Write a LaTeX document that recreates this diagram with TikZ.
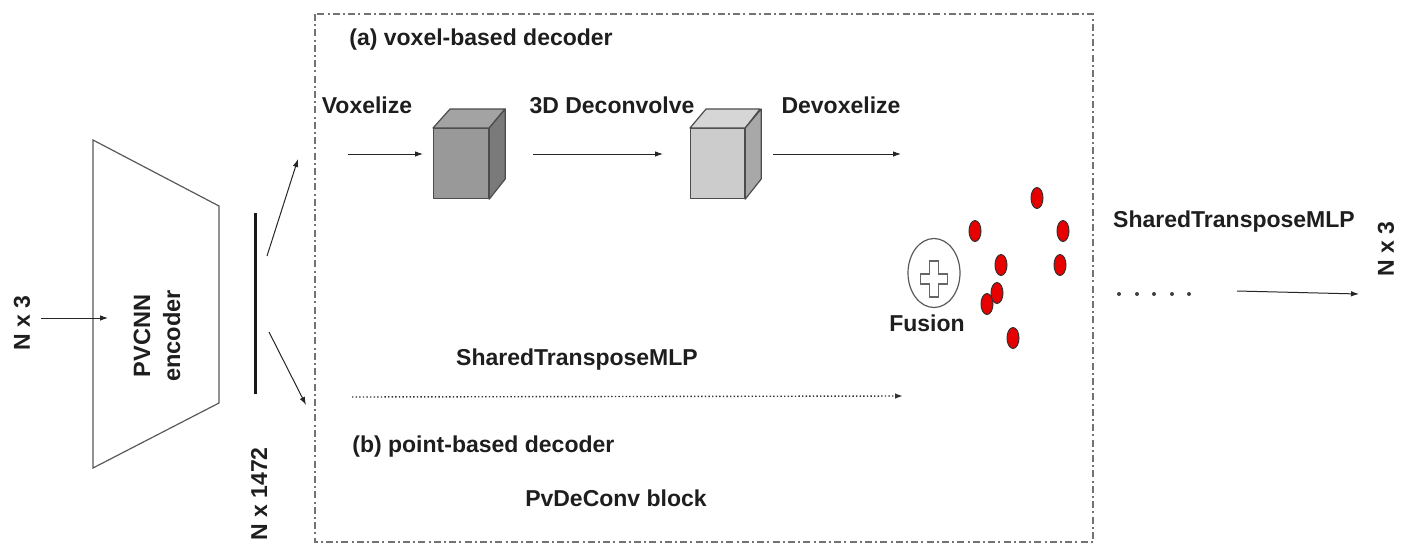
\documentclass[tikz,border=0pt]{standalone}
\usepackage{fontspec}
\setmainfont{Liberation Sans}
\usetikzlibrary{arrows.meta,shapes.geometric}
\definecolor{cubeAfront}{HTML}{999999}
\definecolor{cubeAtop}{HTML}{A3A3A3}
\definecolor{cubeAside}{HTML}{7A7A7A}
\definecolor{cubeBfront}{HTML}{CCCCCC}
\definecolor{cubeBtop}{HTML}{D6D6D6}
\definecolor{cubeBside}{HTML}{A8A8A8}
\definecolor{dotred}{HTML}{E60000}
\definecolor{txt}{HTML}{1E1E1E}
\begin{document}
\begin{tikzpicture}[x=0.5pt,y=-0.5pt,
  font=\fontsize{11.5}{13.5}\selectfont\bfseries,
  lbl/.style={inner sep=0pt, text=txt},
  arr/.style={-{Latex[length=4pt,width=2.8pt]}, line width=0.5pt, draw=black!85},
  cubeedge/.style={draw=black!70, line width=0.6pt, line join=round},
  reddot/.style={ellipse, draw=black!80, fill=dotred, minimum width=6pt, minimum height=10.5pt, inner sep=0pt, line width=0.5pt},
  smalldot/.style={circle, fill=black!75, minimum size=2pt, inner sep=0pt},
  boxline/.style={draw=black!55, line width=0.6pt, dash pattern=on 3.5pt off 1.6pt on 1pt off 1.6pt}
]
\useasboundingbox (0,0) rectangle (1405,558);

% dash-dot frame
\draw[boxline] (315,14) rectangle (1093,542);

% encoder
\draw[draw=black!65, line width=0.6pt, line join=miter] (93,140) -- (219,206) -- (219,403) -- (93,468) -- cycle;
\node[lbl, rotate=90, align=center, font=\fontsize{11.8}{15}\selectfont\bfseries] (enc) at (157,336) {PVCNN\\encoder};
\node[lbl, rotate=90] (nin) at (22,323) {N x 3};
\coordinate (inS) at (41,318);
\coordinate (inE) at (108,318);
\draw[arr] (inS) -- (inE);

% latent bar
\coordinate (barT) at (255,213);
\coordinate (barB) at (255,394);
\draw[line width=1.5pt, black!90] (barT) -- (barB);
\node[lbl, rotate=90] (nlat) at (259,494) {N x 1472};
\coordinate (upS) at (267,256);
\coordinate (upE) at (298,159);
\coordinate (dnS) at (269,332);
\coordinate (dnE) at (306,405);
\draw[arr] (upS) -- (upE);
\draw[arr] (dnS) -- (dnE);

% (a) voxel-based decoder
\node[lbl, anchor=west] (ta) at (349,40) {(a) voxel-based decoder};
\node[lbl] (vox) at (367,105) {Voxelize};
\node[lbl] (dec) at (612,105) {3D Deconvolve};
\node[lbl] (devox) at (841,105) {Devoxelize};

% cube 1
\node[cubeedge, fill=cubeAfront, minimum width=27.5pt, minimum height=35pt, inner sep=0pt, anchor=north west] (c1) at (433,128) {};
\fill[cubeAtop, cubeedge] (c1.north west) -- ++(17,-19) -- ++(55,0) -- (c1.north east) -- cycle;
\fill[cubeAside, cubeedge] (c1.north east) -- ++(16,-19) -- ++(0,70) -- (c1.south east) -- cycle;
% cube 2
\node[cubeedge, fill=cubeBfront, minimum width=27pt, minimum height=35pt, inner sep=0pt, anchor=north west] (c2) at (690,128) {};
\fill[cubeBtop, cubeedge] (c2.north west) -- ++(16,-19) -- ++(54,0) -- (c2.north east) -- cycle;
\fill[cubeBside, cubeedge] (c2.north east) -- ++(16,-19) -- ++(0,70) -- (c2.south east) -- cycle;

\coordinate (a1s) at (348,154);
\coordinate (a1e) at (423,154);
\coordinate (a2s) at (533,154);
\coordinate (a2e) at (663,154);
\coordinate (a3s) at (773,154);
\coordinate (a3e) at (901,154);
\draw[arr] (a1s) -- (a1e);
\draw[arr] (a2s) -- (a2e);
\draw[arr] (a3s) -- (a3e);

% (b) point-based decoder
\node[lbl] (stm) at (577,360) {SharedTransposeMLP};
\coordinate (ds) at (352,397);
\coordinate (de) at (903,396);
\draw[-{Latex[length=4pt,width=2.8pt]}, line width=0.7pt, draw=black!80, dash pattern=on 0.7pt off 1.1pt] (ds) -- (de);
\node[lbl, anchor=west] (tb) at (352,447) {(b) point-based decoder};
\node[lbl] (pvd) at (616,498) {PvDeConv block};

% fusion
\node[ellipse, draw=black!65, line width=0.6pt, minimum width=26pt, minimum height=34.5pt, inner sep=0pt] (fus) at (934,273) {};
\draw[draw=black!60, fill=white, line width=0.6pt, line join=miter]
  (929.5,261) -- (938.5,261) -- (938.5,274) -- (947.5,274) -- (947.5,284) -- (938.5,284) -- (938.5,297)
  -- (929.5,297) -- (929.5,284) -- (920.5,284) -- (920.5,274) -- (929.5,274) -- cycle;
\node[lbl] (fusl) at (927,323) {Fusion};

% point cloud
\node[reddot] (p1) at (1037,198) {};
\node[reddot] (p2) at (975,231) {};
\node[reddot] (p3) at (1063,231) {};
\node[reddot] (p4) at (1001,265) {};
\node[reddot] (p5) at (1060,265) {};
\node[reddot] (p7) at (987,304) {};
\node[reddot] (p6) at (997,293) {};
\node[reddot] (p8) at (1013,338) {};

% output side
\node[lbl] (stm2) at (1234,222) {SharedTransposeMLP};
\node[smalldot] (d1) at (1119,294) {};
\node[smalldot] (d2) at (1137,294) {};
\node[smalldot] (d3) at (1154,294) {};
\node[smalldot] (d4) at (1172,294) {};
\node[smalldot] (d5) at (1189,294) {};
\coordinate (os) at (1237,291);
\coordinate (oe) at (1359,294);
\draw[arr] (os) -- (oe);
\node[lbl, rotate=90] (nout) at (1386,249) {N x 3};
\end{tikzpicture}
\end{document}
